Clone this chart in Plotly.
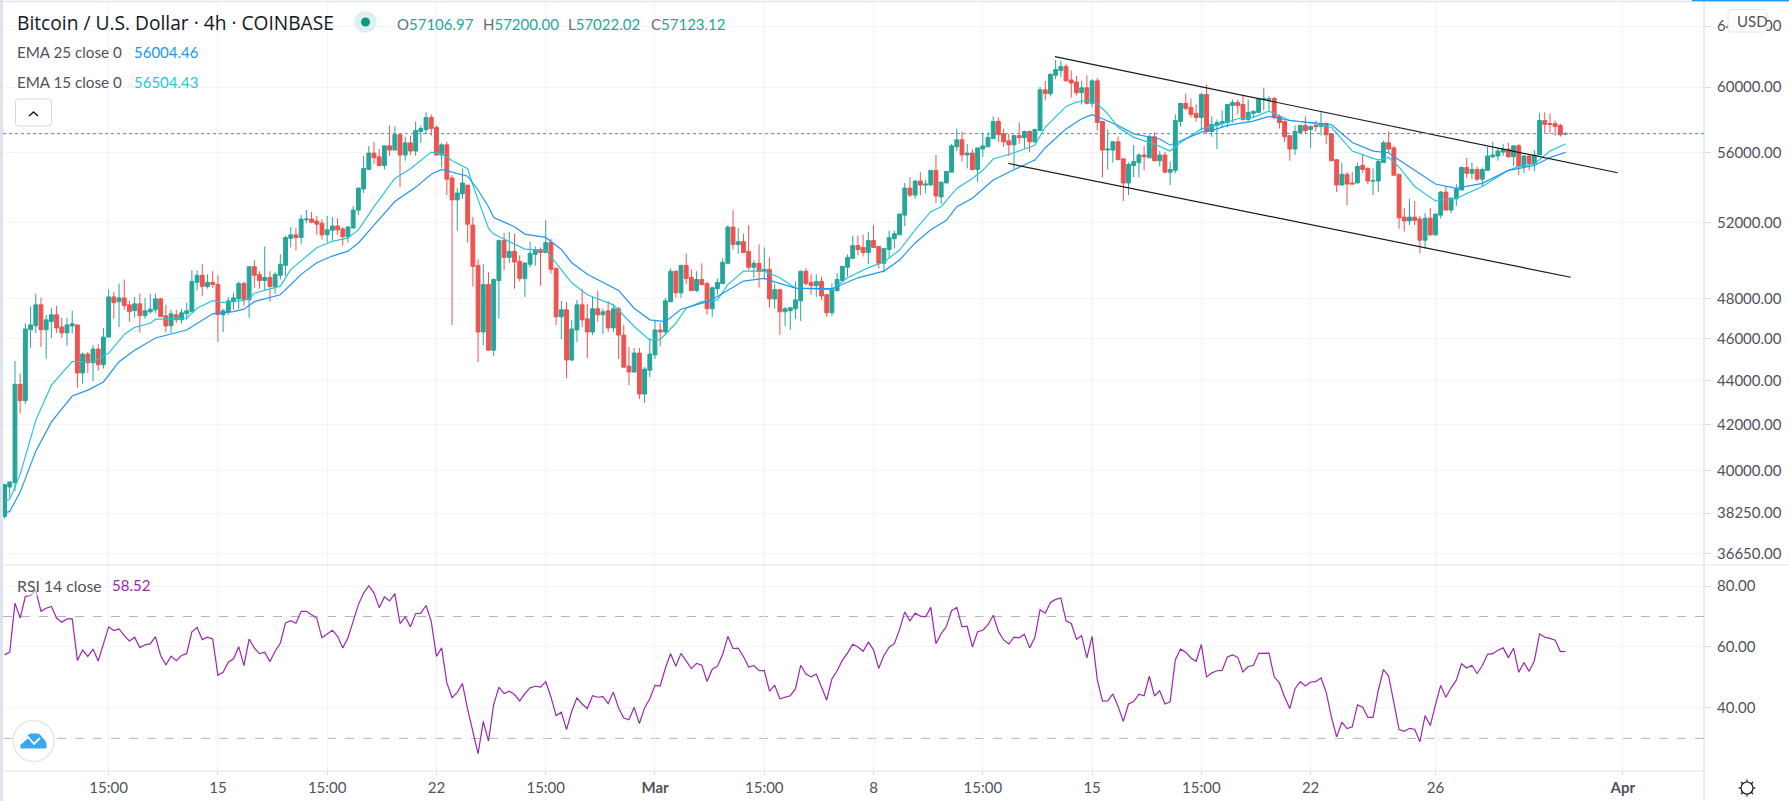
import math
import pandas as pd
import plotly.graph_objects as go

W, H = 1789, 801
PL, PR, PT, PB = 3, 1704, 3, 771   # plot box in page pixels
SPLIT = 565

open_ = [
38110,39320,39500,43830,43080,46430,46630,47670,46430,46830,
47170,46570,46280,46620,46670,44360,45250,44840,45490,44750,
46070,48070,47830,48020,47670,47380,47720,47130,47320,47420,
47970,47120,46630,47170,46920,47220,47320,48820,49180,48600,
48810,48700,47170,47320,47820,47970,48750,47920,49630,49210,
48910,49070,48600,49180,49700,51140,51330,51180,52150,52190,
52080,51960,51330,51580,51810,51650,51230,51700,52690,53880,
55000,55960,55740,55230,56390,56140,57060,55850,56570,56080,
57250,57370,58110,57490,55850,56450,54500,53260,53600,54100,
51860,49700,46320,48700,45440,48910,51020,50120,50440,49910,
49020,49760,50280,50540,50380,50910,49540,47070,47420,44970,
46420,47670,46970,46320,47470,47170,47370,46520,47470,46170,
44680,44400,45300,43380,44490,45210,46420,46320,47820,49390,
48280,49700,49070,48390,48960,48750,47470,48490,48750,49810,
51750,50810,50960,50440,49600,49810,49390,49490,47970,48440,
47320,47370,47470,47870,49390,48810,48650,48860,48180,47270,
48390,48910,49600,50070,50750,50650,50380,51020,50700,49810,
50540,51120,51330,52410,53930,53530,54330,54100,54100,54950,
53430,54220,54840,56330,56750,55850,55960,55000,56200,56330,
56820,57860,57120,56690,56450,57000,56880,57250,56630,57310,
59830,59590,60760,61070,61320,60460,60330,59650,59960,58980,
60400,57860,56140,56140,56630,55620,54220,55230,55400,55850,
55680,56940,55510,55850,54840,54950,57860,58980,58730,58360,
58110,59530,57250,57620,57740,57800,58850,59040,58910,57990,
58360,58420,59220,59200,59280,58170,57860,57000,56200,57190,
57620,57370,57620,57550,57740,57120,55570,54100,54720,54220,
54220,55230,55060,54330,54330,55400,56570,56270,54720,52300,
52090,52300,52190,51040,52240,51330,52410,53700,52690,53320,
53820,55120,54780,55000,54440,54950,55740,55790,56020,56200,
55740,56390,55170,55790,55340,55850,57920,57740,57740,57620,
57106.97]

high = [
39430,39555,44920,44330,46750,47570,48230,48020,47170,47520,
47620,47020,47020,47370,46670,45320,45350,45680,45730,46520,
48440,48330,48750,48960,47870,48070,48230,48020,48230,48230,
48020,47670,47420,47420,47470,47770,49440,49440,49760,49230,
49390,49180,47470,48070,48280,48860,48860,49630,49970,49390,
50700,49390,49340,50280,51280,51750,51700,52410,52690,52580,
52360,52190,52360,52300,52240,51750,51810,52920,53930,55790,
56390,56630,56200,56390,57620,57550,57060,56940,57000,57860,
57620,58420,58300,57620,56570,56630,54670,53930,55060,54100,
52300,50020,49760,49340,49020,51070,51440,51490,51390,50230,
49860,50960,50700,50650,52120,51120,49600,47870,47820,46920,
47920,48490,47720,48070,48390,47470,47870,47720,47570,46670,
45590,45540,45540,44630,46020,46870,46770,48020,49540,49440,
49700,50330,49490,49390,49810,48860,48600,49020,50070,51860,
52690,51700,51390,51860,49970,50810,50650,50120,48750,48440,
47570,47570,48860,49440,49540,49230,49230,49120,48230,48750,
49280,49650,50280,51280,51280,51330,51490,51860,50700,50600,
51550,51550,52470,54220,54550,54390,54840,54390,54950,55850,
54270,54890,56510,57430,57250,56510,56200,56270,57190,57190,
58170,58110,57430,57120,57060,57800,57310,57310,57430,60020,
60400,60880,61760,61700,61510,61070,60710,60400,60760,60520,
60580,57860,57370,56690,56940,55620,55400,56450,55960,56390,
57060,57190,56080,56020,55460,58300,58980,59590,59280,58910,
59650,60150,58170,57990,58540,58910,59220,59220,59470,59220,
58540,59340,59960,59410,59410,58300,57920,57000,57620,57680,
58170,57620,57920,58480,57800,57120,55570,55400,54840,54840,
55400,55850,55120,55060,55620,56690,57250,56390,54720,52800,
53320,53200,52360,52520,52800,52470,53760,54050,53370,54160,
55170,55680,55400,55170,55120,56330,56630,56270,56510,56570,
56390,56510,55850,55910,56140,58360,58420,58360,57920,57740,
57200]

low = [
38030,38870,39150,42490,42920,45560,46280,45600,45030,46030,
46280,46030,45650,46250,43670,43850,44360,43980,44460,44570,
46070,46970,46570,47420,46820,47030,46280,46970,47220,47250,
47070,46320,46270,46770,46720,46920,47320,48390,48120,48490,
48540,45840,46320,47170,47420,47470,47620,47020,48540,48490,
48390,47830,48230,48960,49140,50650,50490,50810,51960,51960,
51330,51070,50910,51020,51330,50750,50910,51700,52410,53650,
55000,55340,55170,55000,55790,56140,53990,55510,55850,55790,
56570,57060,57000,55790,55120,53530,46670,51550,53320,50910,
48600,44870,45680,45400,45160,46970,49440,49820,48490,48860,
48070,49600,49680,48650,50370,49280,46670,45970,44110,44920,
45830,46570,45060,46170,46820,46220,46320,46300,45020,44630,
43790,44400,43150,42970,44160,45020,45630,46270,47820,48020,
48020,48750,48390,48330,48650,47170,47070,48180,48750,49810,
50540,50330,50380,49440,49020,48540,48960,47520,47470,46170,
46620,46420,46970,46870,48650,48180,48070,47920,47070,47120,
48390,48910,49120,50070,50230,50170,49760,50650,49540,49340,
50070,50600,51330,51810,53430,53320,53530,53630,54100,53090,
53040,54220,54840,56080,55460,55060,54950,54270,55740,56330,
56820,56630,56330,55790,55000,56510,56250,56020,56570,57310,
59160,59410,60520,60640,60400,59340,59470,58910,58910,58730,
57310,54550,55000,55400,55570,53200,53530,54550,54550,54950,
55680,55460,55170,54840,54100,54780,57550,58540,58110,57860,
57310,57120,56940,56200,57490,57490,57800,58300,57920,57800,
58050,58420,58540,58540,57990,57430,56630,55510,55850,57190,
57120,56270,57250,57000,56510,55510,53700,54100,52980,54160,
54220,54780,54160,53530,53700,55400,55960,54610,51670,51510,
51860,51860,50330,50580,51260,51280,52220,52690,52520,52920,
53820,54500,54440,54330,53990,54950,55680,55510,55790,55680,
55230,54670,54780,54950,54890,55850,57120,57120,57000,56940,
57022.02]

close = [
39430,39530,43830,43080,46470,46670,47670,46430,46920,47170,
46520,46280,46670,46720,44360,45250,44840,45490,44750,46070,
48070,47780,48020,47630,47330,47720,47130,47370,47450,47970,
47080,46620,47220,46920,47270,47370,48860,49180,48610,48810,
48700,47180,47370,47870,48020,48750,47920,49630,49180,48910,
49070,48600,49230,49760,51180,51330,51180,52190,52190,52020,
51910,51330,51600,51810,51600,51230,51750,52690,53930,55060,
55960,55680,55230,56390,56140,57060,55850,56570,56080,57310,
57430,58110,57430,55850,56450,54440,53260,53650,54220,51910,
49650,46320,48700,45440,48960,51020,50120,50440,49880,49020,
49820,50330,50540,50380,50910,49490,47070,47420,44970,46470,
47670,46920,46320,47470,47170,47320,46520,47470,46170,44630,
44400,45300,43380,44540,45250,46420,46320,47870,49390,48280,
49700,49020,48390,48960,48700,47470,48540,48810,49860,51750,
50810,50960,50380,49600,49810,49390,49490,47970,48440,47320,
47470,47520,47920,49390,48750,48650,48860,48120,47270,48440,
48960,49650,50120,50750,50540,50380,51020,50650,49810,50600,
51180,51390,52470,53930,53530,54330,54100,54160,54950,53480,
54270,54890,56390,56750,55850,55960,55000,56270,56390,56880,
57860,57060,56630,56450,57000,56880,57250,56630,57370,59830,
59590,60820,61130,61320,60400,60270,59650,59960,58980,60400,
57800,56140,56200,56630,55570,54220,55290,55460,55850,55740,
56940,55510,55850,54840,55000,57920,58980,58670,58300,58110,
59530,57250,57680,57800,57860,58910,59040,58850,57990,58420,
58480,59280,59280,59260,58110,57800,56940,56200,57250,57620,
57310,57550,57550,57740,57060,55510,54100,54720,54160,54160,
55170,55000,54330,54350,55460,56570,56200,54670,52260,52090,
52300,52120,51040,52240,51330,52470,53700,52690,53370,53880,
55120,54780,55000,54440,55000,55790,55850,56080,56200,55740,
56390,55170,55790,55340,55850,57920,57680,57680,57550,57060,
57123.12]

rsi = [
57.4,58.3,74.4,69.5,76.6,76.9,78.6,71.7,72.7,73.3,
69.5,68.1,69.2,69.2,55.6,59.0,56.9,59.3,55.4,60.8,
66.6,65.4,65.9,63.7,62.0,63.2,59.8,60.7,61.0,63.4,
57.2,54.1,57.0,55.5,57.2,57.8,65.0,66.4,62.4,63.2,
62.6,50.7,51.7,55.0,56.1,60.1,53.9,62.6,59.7,57.8,
58.3,55.2,58.6,61.3,67.9,68.6,67.8,71.7,71.7,70.6,
69.5,63.0,64.4,65.5,63.5,59.7,63.0,68.4,73.9,77.7,
80.1,77.7,72.9,76.4,75.1,77.5,67.7,69.9,66.6,70.9,
71.1,73.6,68.4,56.9,59.7,48.2,43.4,45.1,48.0,39.5,
32.4,25.0,35.6,29.1,41.1,46.8,44.7,45.5,44.4,42.3,
44.7,46.6,47.1,46.8,48.6,43.6,37.5,38.6,32.9,38.9,
43.3,41.3,39.8,44.0,43.5,43.7,41.4,45.2,40.0,36.7,
36.1,40.2,34.9,40.0,43.0,47.4,47.2,53.1,57.8,53.7,
57.9,55.5,52.9,54.6,54.0,48.7,52.7,53.7,57.5,63.5,
59.5,59.6,56.9,53.4,53.9,52.2,52.3,45.5,47.4,43.0,
43.4,44.0,46.3,54.0,51.1,50.2,51.1,47.1,42.6,49.5,
52.2,55.6,58.0,60.9,60.0,58.6,61.6,59.1,53.0,57.2,
59.9,61.1,65.7,71.5,68.6,71.1,70.1,69.9,73.0,61.1,
64.4,66.7,71.9,73.0,66.6,66.8,60.0,65.0,65.5,67.3,
70.4,65.1,62.3,61.0,63.2,63.0,64.2,59.7,63.1,72.2,
71.1,74.6,75.6,76.1,68.6,67.7,62.5,63.7,56.4,63.5,
49.3,42.2,42.3,44.6,40.5,35.6,41.3,42.1,44.5,44.0,
50.4,43.9,45.6,41.3,42.0,55.8,59.3,58.3,56.4,55.3,
60.8,50.1,51.5,52.2,52.3,56.7,57.4,56.6,51.8,53.6,
53.9,57.9,58.0,58.0,50.2,48.2,43.6,39.8,46.3,48.6,
47.2,48.5,48.6,49.8,45.1,37.0,30.5,35.3,33.2,33.8,
41.0,40.2,36.9,36.9,45.8,52.6,50.4,42.2,32.9,32.3,
33.3,33.0,28.9,37.5,34.2,41.1,47.4,43.5,46.6,49.1,
54.5,53.1,54.0,51.3,53.9,57.6,57.8,58.9,59.7,56.5,
59.6,51.7,54.9,52.0,55.5,64.3,63.2,62.8,62.2,58.5,
58.52]

ema25_bar = [0,1,3,6,9,13,16,19,22,25,29,35,40,44,46,48,53,57,60,63,66,68,71,75,79,82,84,86,89,91,93,94,98,100,104,107,109,112,118,121,124,127,130,135,137,142,146,148,152,159,164,169,172,175,178,181,183,186,190,194,198,200,204,207,209,211,214,217,220,222,224,226,230,232,235,240,243,247,251,255,259,263,266,268,275,279,284,289,294,297,300]
ema25_val = [38250,38320,39110,40840,42120,43290,43560,43940,44890,45440,46030,46420,47220,47330,47450,47830,48180,49230,49840,50190,50450,50890,51860,53170,53970,54720,55000,54850,54610,53820,52880,52280,51770,51370,51190,50540,49840,49230,48400,47500,46920,46830,47450,47830,48090,48880,49020,48840,48520,48490,49050,49400,49980,50890,51600,52120,52880,53350,54390,54980,55550,56280,57410,58030,58280,58030,57620,57110,56900,56800,56430,56690,57210,57310,57620,57880,58170,57920,57780,57680,56590,56080,55980,55550,54160,53910,54200,54950,55230,55700,56004.46]

ema15_bar = [0,1,3,6,9,13,15,17,20,23,25,28,29,31,35,37,40,42,44,47,48,53,55,60,63,66,68,71,75,78,82,84,86,89,90,91,93,94,98,100,104,106,109,112,117,121,124,126,129,131,134,137,139,142,146,149,152,159,162,166,169,172,175,178,180,183,186,188,190,194,198,200,204,206,208,210,212,214,217,221,224,226,230,233,237,240,243,247,251,255,259,264,266,268,271,275,279,284,289,291,294,297,300]
ema15_val = [38740,38810,39850,42190,43790,44890,44890,44890,45290,46200,46550,46750,46950,46950,47000,47500,47880,47780,47830,47950,48260,48620,49490,50630,50980,51160,51600,52880,54480,55040,56020,55920,55510,55040,54100,53260,51680,51370,50810,50560,50510,49840,48790,48180,47670,46590,45920,45950,46750,47500,47830,47920,48700,49400,49400,49050,48520,48440,49050,49580,49880,50510,51600,52600,52880,53910,54480,54950,55610,55980,56430,57510,58790,59060,59160,58950,58340,57510,56900,56490,56080,56590,57410,57620,58030,58130,58500,57920,57780,57510,56080,55550,55700,55140,54020,53200,53350,54020,54950,55170,55320,56080,56504.43]

# bar index -> price, two drawn trend lines
upper_bar, upper_price = [201.85, 310.0], [61970, 54810]
lower_bar, lower_price = [192.9, 301.0], [55350, 49080]

price_ticks = [64000, 60000, 56000, 52000, 48000, 46000, 44000, 42000, 40000, 38250, 36650]
rsi_ticks = [80, 60, 40]
time_tick_bars = [20, 41, 62, 83, 104, 125, 146, 167, 188, 209, 230, 251, 275, 311]
time_tick_text = ["15:00", "15", "15:00", "22", "15:00", "<b>Mar</b>", "15:00", "8", "15:00", "15", "15:00", "22", "26", "<b>Apr</b>"]

assert len(open_) == len(high) == len(low) == len(close) == len(rsi) == 301, (len(open_), len(high), len(low), len(close), len(rsi))
assert len(ema25_bar) == len(ema25_val) and len(ema15_bar) == len(ema15_val), (len(ema25_bar), len(ema25_val), len(ema15_bar), len(ema15_val))

START = pd.Timestamp("2021-02-08 07:00")
def t(i):
    return START + pd.Timedelta(hours=4) * i
def ts(seq):
    return [t(i) for i in seq]

GREEN, RED = "#26a69a", "#ef5350"
BLUE, CYAN, PURPLE = "#2196f3", "#26c6da", "#9c27b0"
GRID, AXIS, TXT, DARK = "#f0f3fa", "#d6d8e0", "#4f525c", "#131722"
FONT = "Lato"

bars = ts(range(301))
fig = go.Figure()
fig.add_trace(go.Candlestick(x=bars, open=open_, high=high, low=low, close=close, xaxis="x", yaxis="y",
    increasing=dict(line=dict(color=GREEN, width=1), fillcolor=GREEN),
    decreasing=dict(line=dict(color=RED, width=1), fillcolor=RED),
    whiskerwidth=0, showlegend=False, hoverinfo="skip"))
fig.add_trace(go.Scatter(x=ts(ema15_bar), y=ema15_val, mode="lines", line=dict(color=CYAN, width=1.2), xaxis="x", yaxis="y", hoverinfo="skip", showlegend=False))
fig.add_trace(go.Scatter(x=ts(ema25_bar), y=ema25_val, mode="lines", line=dict(color=BLUE, width=1.2), xaxis="x", yaxis="y", hoverinfo="skip", showlegend=False))
fig.add_trace(go.Scatter(x=ts(upper_bar), y=upper_price, mode="lines", line=dict(color="#1a1a1a", width=1.2), xaxis="x", yaxis="y", hoverinfo="skip", showlegend=False))
fig.add_trace(go.Scatter(x=ts(lower_bar), y=lower_price, mode="lines", line=dict(color="#1a1a1a", width=1.2), xaxis="x", yaxis="y", hoverinfo="skip", showlegend=False))
fig.add_trace(go.Scatter(x=bars, y=rsi, mode="lines", line=dict(color=PURPLE, width=1.2), xaxis="x2", yaxis="y2", hoverinfo="skip", showlegend=False))

def px(x):
    return (x - PL) / (PR - PL)
def py(y):
    return (PB - y) / (PB - PT)
def pt(x, y):
    return f"{px(x):.5f},{py(y):.5f}"

shapes = []
def line_px(x0, y0, x1, y1, color, width=1, layer="above"):
    shapes.append(dict(type="line", xref="paper", yref="paper", x0=px(x0), y0=py(y0), x1=px(x1), y1=py(y1),
                       line=dict(color=color, width=width), layer=layer))
def round_rect(x0, y0, x1, y1, r, fill, stroke):
    d = (f"M {pt(x0+r,y0)} L {pt(x1-r,y0)} Q {pt(x1,y0)} {pt(x1,y0+r)} L {pt(x1,y1-r)} Q {pt(x1,y1)} {pt(x1-r,y1)} "
         f"L {pt(x0+r,y1)} Q {pt(x0,y1)} {pt(x0,y1-r)} L {pt(x0,y0+r)} Q {pt(x0,y0)} {pt(x0+r,y0)} Z")
    shapes.append(dict(type="path", xref="paper", yref="paper", path=d, fillcolor=fill, line=dict(color=stroke, width=1), layer="above"))
def circle_px(cx, cy, r, fill, stroke=None, width=1):
    shapes.append(dict(type="circle", xref="paper", yref="paper", x0=px(cx-r), x1=px(cx+r), y0=py(cy+r), y1=py(cy-r),
                       fillcolor=fill, line=dict(color=stroke or fill, width=width if stroke else 0), layer="above"))

# left strip, frame lines
shapes.append(dict(type="rect", xref="paper", yref="paper", x0=px(0), x1=px(3), y0=py(801), y1=py(0),
                   fillcolor="#e0e3eb", line=dict(width=0), layer="above"))
line_px(3, 1.5, W, 1.5, "#e0e3eb", 1.5)
line_px(3, SPLIT, W, SPLIT, "#e0e3eb", 1)
line_px(3, PB, PR, PB, "#e0e3eb", 1)
line_px(PR, 2, PR, H, AXIS, 1)
line_px(1692, 0.5, W, 0.5, "#2196f3", 1.5)
# last price dotted line
shapes.append(dict(type="line", xref="paper", yref="y", x0=0, x1=1, y0=close[-1], y1=close[-1],
                   line=dict(color=GREEN, width=1, dash="dot"), layer="above"))
# RSI bands
for lvl in (70, 30):
    shapes.append(dict(type="line", xref="paper", yref="y2", x0=0, x1=1, y0=lvl, y1=lvl,
                       line=dict(color="#b2b5be", width=1, dash="dash"), layer="below"))
# status dot
circle_px(365.5, 22, 11, "#dff1ef")
circle_px(365.5, 22, 4.5, "#089981")
# collapse button
round_rect(15.5, 99, 51.5, 126, 3, "#ffffff", "#d6d8e0")
shapes.append(dict(type="path", xref="paper", yref="paper", path=f"M {pt(29,116)} L {pt(33.5,112)} L {pt(38,116)}",
                   line=dict(color=DARK, width=1.5), layer="above"))
# currency button
round_rect(1728, 9.5, 1766.5, 32, 4, "#ffffff", "#e0e3eb")
# logo
circle_px(33.6, 741, 20.5, "#ffffff", "#e6e6e6", 1.5)
cloud = (f"M {pt(21,748)} Q {pt(20,741)} {pt(26,739)} Q {pt(28,733)} {pt(34,734)} Q {pt(40,733)} {pt(42,738)} "
         f"Q {pt(47,741)} {pt(46,748)} Z")
shapes.append(dict(type="path", xref="paper", yref="paper", path=cloud, fillcolor="#38a8ef", line=dict(color="#38a8ef", width=1), layer="above"))
shapes.append(dict(type="path", xref="paper", yref="paper", path=f"M {pt(20,744)} L {pt(28,737)} L {pt(34,744)} L {pt(40,738)}",
                   line=dict(color="#ffffff", width=1.8), layer="above"))
# settings gear
GX, GY = 1747, 788
circle_px(GX, GY, 6, "#ffffff", "#131722", 1.2)
for k in range(8):
    a = k * math.pi / 4
    line_px(GX + 6 * math.cos(a), GY + 6 * math.sin(a), GX + 8.5 * math.cos(a), GY + 8.5 * math.sin(a), "#131722", 1.2)

ann = []
def label(x, y, text, color, size=14, bg=None, family=FONT):
    ann.append(dict(xref="paper", yref="paper", x=px(x), y=py(y), text=text, showarrow=False, xanchor="left", yanchor="middle",
                    font=dict(family=family, size=size, color=color), borderpad=0, bgcolor=bg))
label(15.5, 23, "Bitcoin / U.S. Dollar · 4h · COINBASE", DARK, 19.2, family="Open Sans")
GR = "#6a6d78"
def ohlc(x, letter, value):
    label(x, 23.5, f'<span style="color:{GR}">{letter}</span><span style="color:{GREEN}">{value:.2f}</span>', GREEN, 15)
ohlc(396, "O", open_[-1]); ohlc(482, "H", high[-1]); ohlc(567, "L", low[-1]); ohlc(650, "C", close[-1])
label(15.5, 52, "EMA 25 close 0", TXT, 15.2); label(133, 52, f"{ema25_val[-1]:.2f}", BLUE, 15)
label(15.5, 82, "EMA 15 close 0", TXT, 15.2); label(133, 82, f"{ema15_val[-1]:.2f}", CYAN, 15)
label(15.5, 585, "RSI 14 close", TXT, 15.8, "rgba(255,255,255,0.55)"); label(111, 585, f"{rsi[-1]:.2f}", PURPLE, 15)
label(1735.5, 21, "USD", TXT, 15)

tvals = ts(time_tick_bars)
fig.update_layout(
    width=W, height=H, autosize=False, showlegend=False, paper_bgcolor="white", plot_bgcolor="white",
    margin=dict(l=PL, r=W - PR, t=PT, b=H - PB), font=dict(family=FONT, color=TXT, size=14),
    boxgap=0.1, boxgroupgap=0.18, hovermode=False, shapes=shapes, annotations=ann,
    xaxis=dict(domain=[0, 1], anchor="y", type="date", range=[t(-0.3), t(326.6)], rangeslider=dict(visible=False),
               tickmode="array", tickvals=tvals, ticktext=time_tick_text, showticklabels=False, ticks="",
               showgrid=True, gridcolor=GRID, gridwidth=1, zeroline=False, showline=False),
    xaxis2=dict(domain=[0, 1], anchor="y2", type="date", matches="x", tickmode="array", tickvals=tvals, ticktext=time_tick_text,
                showticklabels=True, ticks="outside", ticklen=3, tickcolor=AXIS, tickangle=0,
                showgrid=True, gridcolor=GRID, gridwidth=1, zeroline=False, showline=False,
                tickfont=dict(family=FONT, size=15, color=TXT)),
    yaxis=dict(domain=[(PB - SPLIT) / (PB - PT), 1], anchor="x", side="right", type="log",
               range=[math.log10(36210), math.log10(65580)], tickmode="array", tickvals=price_ticks,
               ticktext=[f"{v:.2f}" for v in price_ticks], ticks="outside", ticklen=6, tickcolor=AXIS,
               showgrid=True, gridcolor=GRID, gridwidth=1, zeroline=False, showline=False,
               tickfont=dict(family=FONT, size=15, color=TXT), ticklabelstandoff=3),
    yaxis2=dict(domain=[0, (PB - SPLIT) / (PB - PT)], anchor="x2", side="right", range=[19.3, 86.9],
                tickmode="array", tickvals=rsi_ticks, ticktext=[f"{v:.2f}" for v in rsi_ticks], ticks="outside", ticklen=6, tickcolor=AXIS,
                showgrid=True, gridcolor=GRID, gridwidth=1, zeroline=False, showline=False,
                tickfont=dict(family=FONT, size=15, color=TXT), ticklabelstandoff=3),
)
fig.write_html("out.html", config=dict(displayModeBar=False),
               post_script="document.documentElement.style.margin='0';document.body.style.margin='0';document.body.style.overflow='hidden';")
